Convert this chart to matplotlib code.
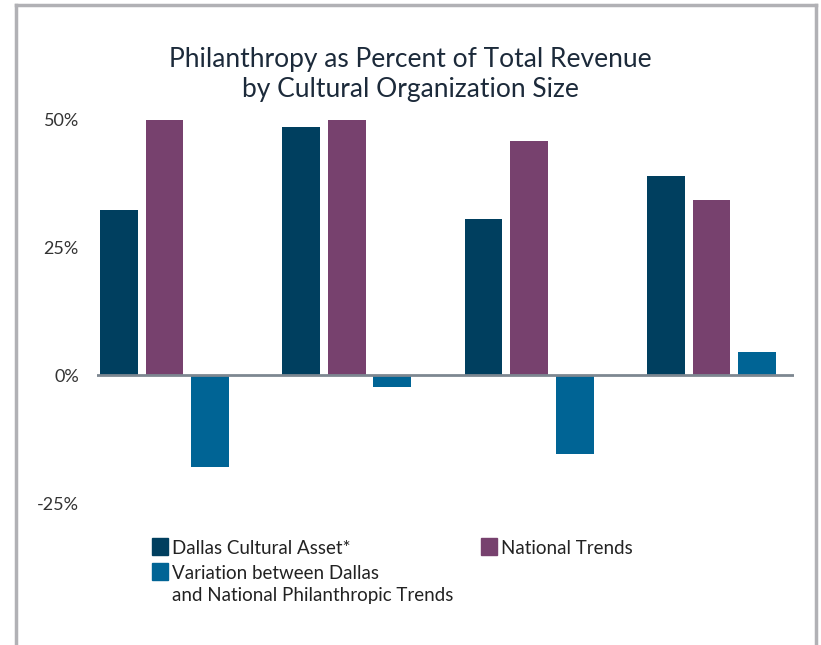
import matplotlib
matplotlib.use('Agg')
import matplotlib.pyplot as plt
import numpy as np
from matplotlib.patches import Rectangle
from matplotlib.lines import Line2D

# values (percent of total revenue)
groups = ['Group 1', 'Group 2', 'Group 3', 'Group 4']
dallas = [32.2, 48.4, 30.5, 38.9]
national = [49.8, 49.8, 45.7, 34.2]
variation = [-18.0, -2.4, -15.4, 4.5]
yticks = [-25, 0, 25, 50]
ytick_labels = ['-25%', '0%', '25%', '50%']
series_names = ['Dallas Cultural Asset*', 'National Trends',
                'Variation between Dallas\nand National Philanthropic Trends']

c_dallas = '#003f5f'
c_national = '#77416e'
c_variation = '#006495'

plt.rcParams['font.family'] = ['Lato', 'DejaVu Sans']

fig = plt.figure(figsize=(8.21, 6.45), dpi=100)
ax = fig.add_axes([97 / 821, 1 - 503 / 645, (794 - 97) / 821, (503 - 119) / 645])

x = np.arange(len(groups)) * 4
w = 0.83
ax.bar(x, dallas, w, color=c_dallas, label=series_names[0], clip_on=False, zorder=2)
ax.bar(x + 1, national, w, color=c_national, label=series_names[1], clip_on=False, zorder=2)
ax.bar(x + 2, variation, w, color=c_variation, label=series_names[2], clip_on=False, zorder=2)

ax.set_xlim(-0.48, 14.81)
ax.set_ylim(-25, 50)
ax.axhline(0, color='#7d8791', lw=2, zorder=3)

ax.set_xticks([])
ax.set_yticks(yticks)
ax.set_yticklabels(ytick_labels, fontsize=13, color='#333333')
ax.tick_params(axis='y', length=0, pad=13)
for s in ax.spines.values():
    s.set_visible(False)

fig.text(0.5, 1 - 74.5 / 645, 'Philanthropy as Percent of Total Revenue\nby Cultural Organization Size',
         ha='center', va='center', fontsize=19, color='#1c2a3a', linespacing=1.3)

# legend drawn by hand so the swatch sits on the first line of a two-line label
def legend_item(px, py, color, text):
    fig.add_artist(Rectangle((px / 821, 1 - (py + 8.5) / 645), 16 / 821, 17 / 645,
                             transform=fig.transFigure, color=color))
    fig.text((px + 20) / 821, 1 - (py - 6) / 645, text, ha='left', va='top',
             fontsize=13.5, color='#222222', linespacing=1.33)

legend_item(152, 546, c_dallas, series_names[0])
legend_item(481, 546, c_national, series_names[1])
legend_item(152, 571, c_variation, series_names[2])

# gray frame around the chart
frame_c = '#b1b1b5'
fig.add_artist(Line2D([16 / 821, 16 / 821], [0, 1 - 5 / 645], color=frame_c, lw=2.5))
fig.add_artist(Line2D([16 / 821, 816 / 821], [1 - 5 / 645, 1 - 5 / 645], color=frame_c, lw=2.5))
fig.add_artist(Line2D([816 / 821, 816 / 821], [0, 1 - 5 / 645], color=frame_c, lw=2.5))

plt.savefig('out.png', dpi=100)
